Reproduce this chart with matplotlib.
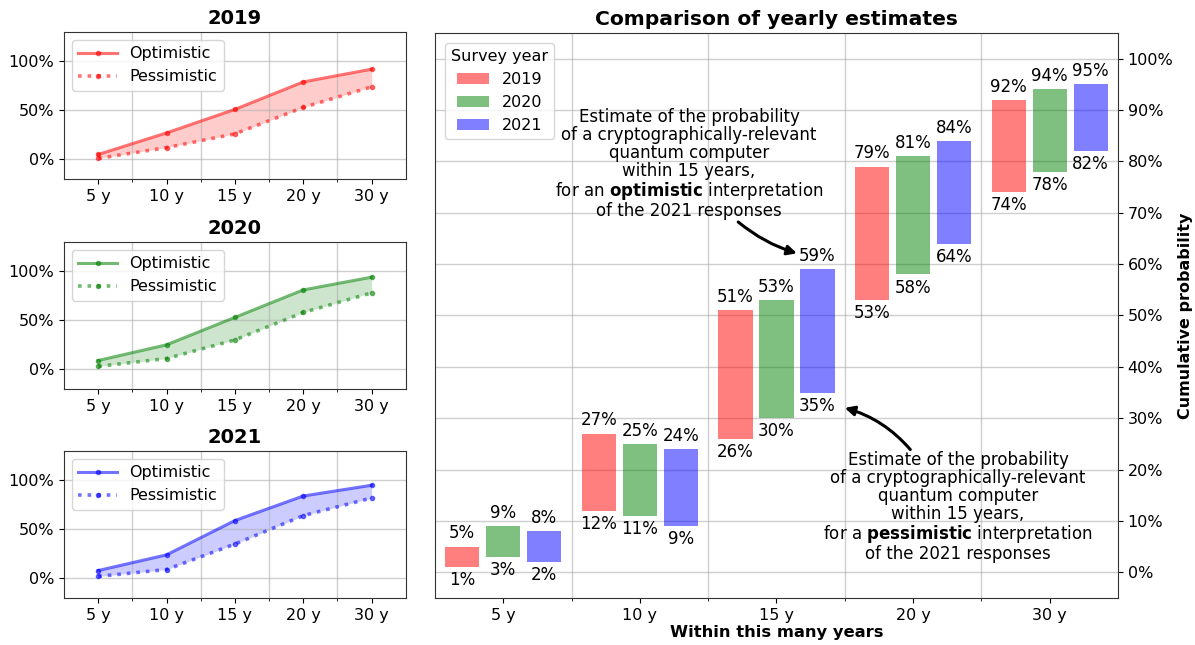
import matplotlib
matplotlib.use("Agg")
import matplotlib.pyplot as plt
import numpy as np
from matplotlib.ticker import PercentFormatter

# ---------------- data ----------------
horizons = ["5 y", "10 y", "15 y", "20 y", "30 y"]
survey_years = ["2019", "2020", "2021"]
year_colors = ["red", "green", "blue"]

optimistic_2019 = [5, 27, 51, 79, 92]
pessimistic_2019 = [1, 12, 26, 53, 74]
optimistic_2020 = [9, 25, 53, 81, 94]
pessimistic_2020 = [3, 11, 30, 58, 78]
optimistic_2021 = [8, 24, 59, 84, 95]
pessimistic_2021 = [2, 9, 35, 64, 82]

optimistic = [optimistic_2019, optimistic_2020, optimistic_2021]
pessimistic = [pessimistic_2019, pessimistic_2020, pessimistic_2021]

annot_text_opt = ("Estimate of the probability\nof a cryptographically-relevant\n"
                  "quantum computer\nwithin 15 years,\nfor an $\\bf{optimistic}$ interpretation\n"
                  "of the 2021 responses")
annot_text_pess = ("Estimate of the probability\nof a cryptographically-relevant\n"
                   "quantum computer\nwithin 15 years,\nfor a $\\bf{pessimistic}$ interpretation\n"
                   "of the 2021 responses")

FS = 11.5
plt.rcParams["font.family"] = "DejaVu Sans"
plt.rcParams["font.size"] = FS

fig = plt.figure(figsize=(11.95, 6.45), dpi=100)

x = np.arange(len(horizons))
grid_kw = dict(color="#b0b0b0", alpha=0.6, linewidth=1)

# ---------------- left panels ----------------
left_bottoms = [0.7225, 0.397, 0.0729]
for i, yr in enumerate(survey_years):
    ax = fig.add_axes([0.0536, left_bottoms[i], 0.286, 0.228])
    c = year_colors[i]
    o = np.array(optimistic[i]) / 100
    p = np.array(pessimistic[i]) / 100
    ax.plot(x, o, ".-", color=c, alpha=0.55, lw=2.2, markersize=6, label="Optimistic")
    ax.plot(x, p, ".:", color=c, alpha=0.55, lw=2.6, markersize=6, label="Pessimistic")
    ax.fill_between(x, p, o, color=c, alpha=0.2, linewidth=0)
    ax.set_xlim(-0.5, 4.5)
    ax.set_ylim(-0.2, 1.3)
    ax.set_xticks(x)
    ax.set_xticklabels(horizons)
    ax.set_xticks(x[:-1] + 0.5, minor=True)
    ax.set_yticks([0, 0.5, 1.0])
    ax.yaxis.set_major_formatter(PercentFormatter(1.0, decimals=0))
    ax.grid(True, which="minor", axis="x", **grid_kw)
    ax.grid(True, which="major", axis="y", **grid_kw)
    ax.set_title(yr, fontweight="bold", fontsize=14, pad=6)
    ax.legend(loc="upper left", fontsize=FS, borderaxespad=0.5, handlelength=2.4)
    for s in ax.spines.values():
        s.set_color("#333333")

# ---------------- right panel ----------------
axr = fig.add_axes([0.364, 0.0729, 0.5715, 0.876])
offsets = [-0.3, 0.0, 0.3]
width = 0.25
for i, yr in enumerate(survey_years):
    c = year_colors[i]
    o = np.array(optimistic[i]) / 100
    p = np.array(pessimistic[i]) / 100
    xs = x + offsets[i]
    axr.bar(xs, o - p, bottom=p, width=width, color=c, alpha=0.5, label=yr)
    for xi, oi, pi in zip(xs, o, p):
        axr.annotate(f"{oi*100:.0f}%", (xi, oi), xytext=(0, 3), textcoords="offset points",
                     ha="center", va="bottom", fontsize=12)
        axr.annotate(f"{pi*100:.0f}%", (xi, pi), xytext=(0, -3), textcoords="offset points",
                     ha="center", va="top", fontsize=12)

axr.set_xlim(-0.5, 4.5)
axr.set_ylim(-0.05, 1.05)
axr.set_xticks(x)
axr.set_xticklabels(horizons)
axr.set_xticks(x[:-1] + 0.5, minor=True)
axr.set_yticks(np.arange(0, 1.01, 0.1))
axr.yaxis.set_major_formatter(PercentFormatter(1.0, decimals=0))
axr.yaxis.tick_right()
axr.yaxis.set_label_position("right")
axr.grid(True, which="minor", axis="x", **grid_kw)
axr.grid(True, which="major", axis="y", **grid_kw)
axr.set_axisbelow(True)
axr.set_title("Comparison of yearly estimates", fontweight="bold", fontsize=14.6, pad=6)
axr.set_xlabel("Within this many years", fontweight="bold", fontsize=11.8, labelpad=2)
axr.set_ylabel("Cumulative probability", fontweight="bold", fontsize=11.5, labelpad=3)
axr.legend(title="Survey year", loc="upper left", fontsize=FS, title_fontsize=FS,
           borderaxespad=0.6)
for s in axr.spines.values():
    s.set_color("#333333")

# annotations: text blocks
axr.text(1.36, 0.795, annot_text_opt, ha="center", va="center", fontsize=12, linespacing=1.0)
axr.text(3.33, 0.128, annot_text_pess, ha="center", va="center", fontsize=12, linespacing=1.0)

# arrows
arrow_kw1 = dict(arrowstyle="-|>", color="black", lw=2.2, mutation_scale=14,
                 connectionstyle="arc3,rad=0.1", shrinkA=0, shrinkB=0)
arrow_kw2 = dict(arrowstyle="-|>", color="black", lw=2.2, mutation_scale=14,
                 connectionstyle="arc3,rad=0.15", shrinkA=0, shrinkB=0)
axr.annotate("", xy=(2.15, 0.621), xytext=(1.72, 0.682), arrowprops=arrow_kw1)
axr.annotate("", xy=(2.50, 0.320), xytext=(2.98, 0.239), arrowprops=arrow_kw2)

fig.savefig("out.png", dpi=100)
